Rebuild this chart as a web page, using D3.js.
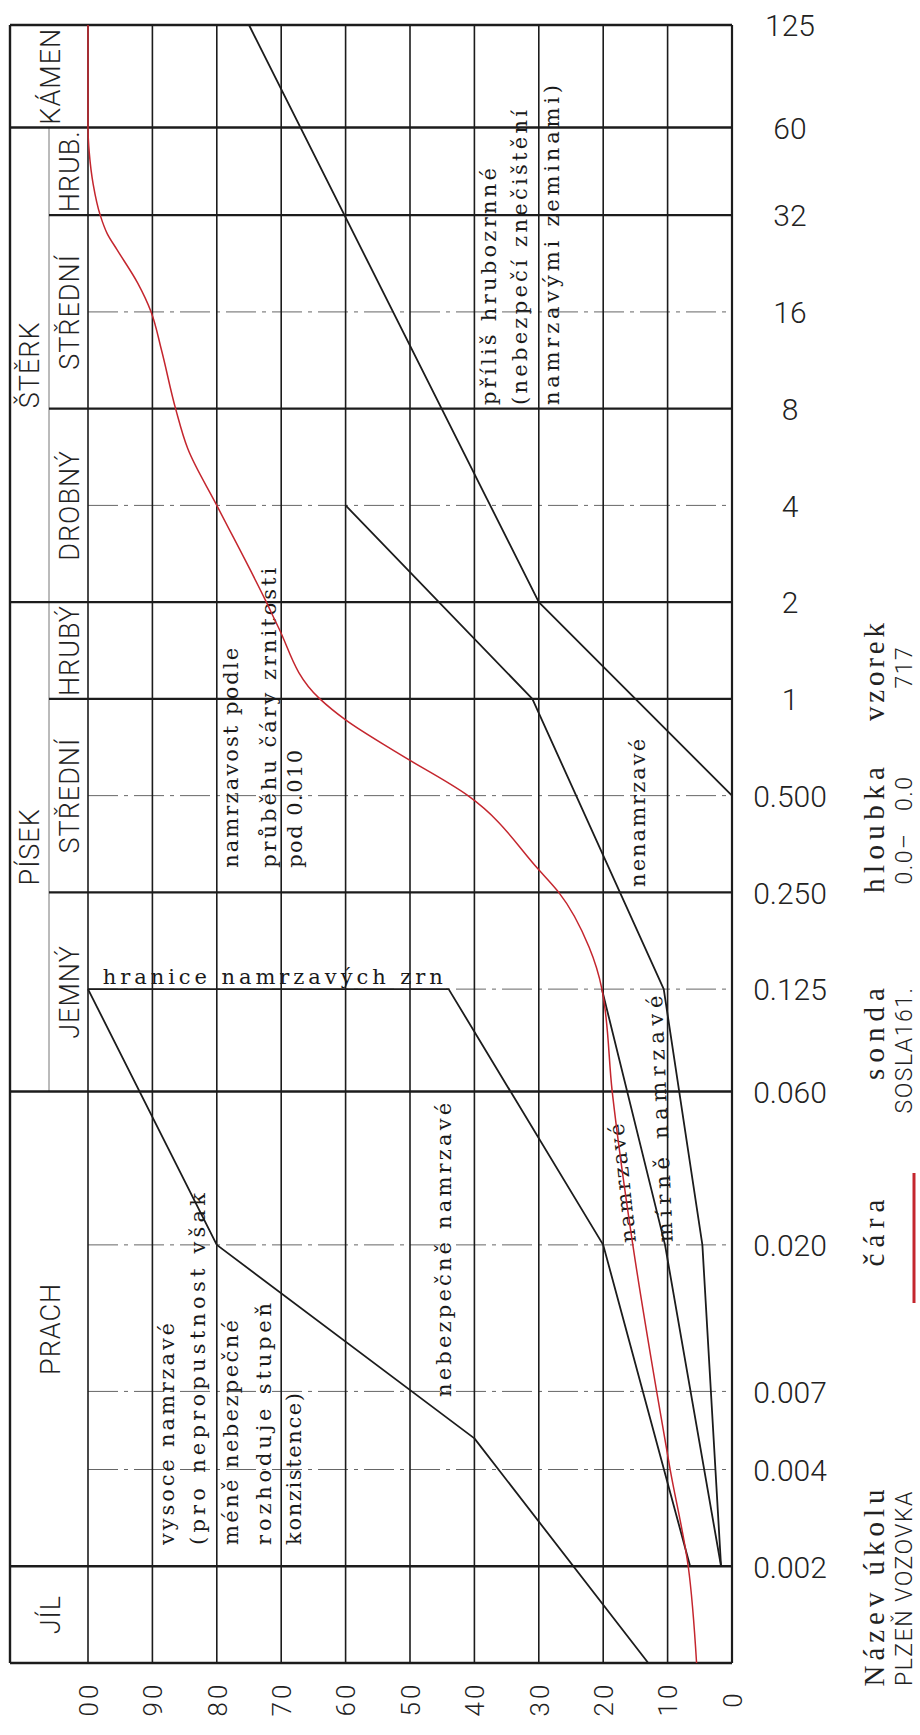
<!DOCTYPE html>
<html>
<head>
<meta charset="utf-8">
<script src="https://cdn.jsdelivr.net/npm/d3@7"></script>
<style>
  body { margin: 0; background: #fff; }
  .sans { font-family: Roboto, "DejaVu Sans", sans-serif; font-weight: 300; fill: #222; }
  .serif { font-family: "DejaVu Serif", "Liberation Serif", serif; fill: #1a1a1a; }
  .legend-word { font-family: "Liberation Serif", "DejaVu Serif", serif; fill: #222; }
</style>
</head>
<body>
<div id="container"></div>
<script>
// grain size (mm) - runs vertically on a log scale
const sizeTicks = [125, 60, 32, 16, 8, 4, 2, 1, 0.5, 0.25, 0.125, 0.06, 0.02, 0.007, 0.004, 0.002];
const sizeTickLabels = ["125", "60", "32", "16", "8", "4", "2", "1", "0.500", "0.250", "0.125", "0.060", "0.020", "0.007", "0.004", "0.002"];
const sizeFullLines = [60, 2, 0.06, 0.002];
const sizeInnerLines = [32, 8, 1, 0.25];
const sizeThinLines = [16, 4, 0.5, 0.125, 0.02, 0.007, 0.004];

// percent passing - runs horizontally, 100 on the left
const percentTicks = [100, 90, 80, 70, 60, 50, 40, 30, 20, 10, 0];
const percentLabels = ["00", "90", "80", "70", "60", "50", "40", "30", "20", "10", "0"];

// soil fractions in the header column
const fractionNames = ["KÁMEN", "ŠTĚRK", "PÍSEK", "PRACH", "JÍL"];
const fractionFrom = [125, 60, 2, 0.06, 0.002];
const fractionTo = [60, 2, 0.06, 0.002, 0.001];
const fractionSplit = [false, true, true, false, false];
const subNames = ["HRUB.", "STŘEDNÍ", "DROBNÝ", "HRUBÝ", "STŘEDNÍ", "JEMNÝ"];
const subFrom = [60, 32, 8, 2, 1, 0.25];
const subTo = [32, 8, 2, 1, 0.25, 0.06];

// frost susceptibility limit lines, [size mm, percent]
const limitCoarse = [[125, 75], [2, 30], [0.5, 0]];
const limitNonFrost = [[4, 60], [1, 31], [0.125, 10.6], [0.02, 4.6], [0.002, 1.7]];
const limitSlight = [[0.125, 20.2], [0.02, 10.4], [0.002, 1.7]];
const limitFrostGrains = [[0.125, 100], [0.125, 44], [0.02, 20], [0.002, 6.5]];
const limitHigh = [[0.125, 100], [0.02, 80], [0.005, 40], [0.001, 13]];

// sample grading curve (sonda SOSLA161, vzorek 717)
const sampleSize = [125, 60, 50, 40, 32, 28, 25, 19.7, 16, 12.2, 8, 6, 4, 2, 1.68, 1, 0.86, 0.68, 0.5, 0.294, 0.25, 0.169, 0.125, 0.06, 0.02, 0.007, 0.004, 0.002, 0.001];
const samplePassing = [100, 100, 99.8, 99.2, 98.1, 97, 95.5, 92.3, 90.2, 88.6, 86.4, 84.5, 80, 72.3, 70.5, 64, 60, 52, 41, 30, 26.9, 22.2, 20.2, 18.6, 15.4, 11.7, 9.6, 6.8, 5.5];

// zone texts, anchored in data units (size mm, percent)
const zoneTexts = [
  { text: "příliš hrubozrnné", size: 8.21, pct: 36.6, len: 237 },
  { text: "(nebezpečí znečištění", size: 8.21, pct: 31.8, len: 295 },
  { text: "namrzavými zeminami)", size: 8.21, pct: 26.9, len: 320 },
  { text: "namrzavost podle", size: 0.298, pct: 76.7, len: 220 },
  { text: "průběhu čáry zrnitosti", size: 0.298, pct: 70.8, len: 300 },
  { text: "pod 0.010", size: 0.298, pct: 66.8, len: 118 },
  { text: "nenamrzavé", size: 0.26, pct: 13.5, len: 148 },
  { text: "nebezpečně namrzavé", size: 0.00673, pct: 43.6, len: 294 },
  { text: "vysoce namrzavé", size: 0.00233, pct: 86.6, len: 222 },
  { text: "(pro nepropustnost však", size: 0.00233, pct: 81.8, len: 352 },
  { text: "méně nebezpečné", size: 0.00233, pct: 76.7, len: 225 },
  { text: "rozhoduje stupeň", size: 0.00233, pct: 71.6, len: 242 },
  { text: "konzistence)", size: 0.00233, pct: 66.9, len: 152 },
  { text: "namrzavé", size: 0.0204, pct: 14.9, len: 120, angle: -96 },
  { text: "mírně namrzavé", size: 0.0204, pct: 9.2, len: 247, angle: -92.5 },
  { text: "hranice namrzavých zrn", size: 0.1297, pct: 97.7, len: 340, angle: 0 }
];

// legend block on the right
const legendWords = ["vzorek", "hloubka", "sonda", "čára", "Název úkolu"];
const legendWordLen = [98, 126, 92, 67, 197];
const legendValues = ["717", "0.0–   0.0", "SOSLA161.", "", "PLZEŇ VOZOVKA"];

const width = 920, height = 1735;
const left = 10, split = 49;
const x = d3.scaleLinear().domain([100, 0]).range([88, 732]);
const y = d3.scaleLog().domain([125, 0.001]).range([25, 1663]);

const svg = d3.select("#container").append("svg")
  .attr("width", width).attr("height", height)
  .style("background", "#fff");

const ink = "#1c1c1c";

// thin partial lines
svg.append("g").selectAll("line").data(sizeThinLines).join("line")
  .attr("x1", x(100)).attr("x2", x(0))
  .attr("y1", d => y(d)).attr("y2", d => y(d))
  .attr("stroke", "#666").attr("stroke-width", 1)
  .attr("stroke-dasharray", "30,6,4,6");

// vertical percent grid
svg.append("g").selectAll("line").data(percentTicks).join("line")
  .attr("x1", d => x(d)).attr("x2", d => x(d))
  .attr("y1", y(125)).attr("y2", y(0.001))
  .attr("stroke", ink).attr("stroke-width", d => d === 0 ? 2.2 : 1.6);

// header sub-column divider
svg.append("line")
  .attr("x1", split).attr("x2", split)
  .attr("y1", y(60)).attr("y2", y(0.06))
  .attr("stroke", "#777").attr("stroke-width", 1);

// main horizontal lines
svg.append("g").selectAll("line").data([125, 0.001].concat(sizeFullLines)).join("line")
  .attr("x1", left).attr("x2", x(0))
  .attr("y1", d => y(d)).attr("y2", d => y(d))
  .attr("stroke", ink).attr("stroke-width", 2.4);
svg.append("g").selectAll("line").data(sizeInnerLines).join("line")
  .attr("x1", split).attr("x2", x(0))
  .attr("y1", d => y(d)).attr("y2", d => y(d))
  .attr("stroke", ink).attr("stroke-width", 2.1);
svg.append("line")
  .attr("x1", left).attr("x2", left)
  .attr("y1", y(125)).attr("y2", y(0.001))
  .attr("stroke", ink).attr("stroke-width", 2.4);

// limit lines
const limitLine = d3.line().x(d => x(d[1])).y(d => y(d[0]));
svg.append("g").selectAll("path")
  .data([limitCoarse, limitNonFrost, limitSlight, limitFrostGrains, limitHigh])
  .join("path")
  .attr("d", limitLine)
  .attr("fill", "none").attr("stroke", ink).attr("stroke-width", 1.8)
  .attr("stroke-linejoin", "round");

// fraction names
const fracG = svg.append("g").attr("class", "sans").style("font-size", "27px");
fractionNames.forEach((name, i) => {
  const cy = (y(fractionFrom[i]) + y(fractionTo[i])) / 2;
  const cx = fractionSplit[i] ? 30 : 51;
  fracG.append("text")
    .attr("transform", `translate(${cx},${cy}) rotate(-90)`)
    .attr("text-anchor", "middle").attr("dominant-baseline", "central")
    .style("letter-spacing", "1px")
    .text(name);
});
subNames.forEach((name, i) => {
  const cy = (y(subFrom[i]) + y(subTo[i])) / 2;
  fracG.append("text")
    .attr("transform", `translate(70,${cy}) rotate(-90)`)
    .attr("text-anchor", "middle").attr("dominant-baseline", "central")
    .style("letter-spacing", "1px")
    .text(name);
});

// zone descriptions
const zoneG = svg.append("g").attr("class", "serif").style("font-size", "21px");
zoneTexts.forEach(t => {
  const a = t.angle === undefined ? -90 : t.angle;
  zoneG.append("text")
    .attr("transform", `translate(${x(t.pct)},${y(t.size)}) rotate(${a})`)
    .attr("textLength", t.len).attr("lengthAdjust", "spacing")
    .text(t.text);
});

// sample curve
const idx = d3.range(sampleSize.length);
svg.append("path")
  .datum(idx)
  .attr("fill", "none")
  .attr("stroke", "#c4262e").attr("stroke-width", 1.5)
  .attr("d", d3.line()
    .x(i => x(samplePassing[i]))
    .y(i => y(sampleSize[i]))
    .curve(d3.curveMonotoneY));

// grain size labels
const sizeAxis = svg.append("g")
  .attr("transform", "translate(790,0)")
  .call(d3.axisRight(y).tickValues(sizeTicks)
    .tickFormat((d, i) => sizeTickLabels[i]).tickSize(0).tickPadding(0));
sizeAxis.select(".domain").remove();
sizeAxis.selectAll("text")
  .attr("x", 0).attr("dy", "0.36em")
  .attr("text-anchor", "middle")
  .style("font-size", "30px").style("font-family", "Roboto, sans-serif")
  .style("font-weight", 300).attr("fill", "#222");

// percent labels
const pctAxis = svg.append("g")
  .attr("transform", "translate(0,1699)")
  .call(d3.axisBottom(x).tickValues(percentTicks)
    .tickFormat((d, i) => percentLabels[i]).tickSize(0).tickPadding(0));
pctAxis.select(".domain").remove();
pctAxis.selectAll("text")
  .attr("y", 0).attr("dy", "0.36em")
  .attr("transform", "rotate(-90)")
  .attr("text-anchor", "middle")
  .style("font-size", "26px").style("font-family", "Roboto, sans-serif")
  .style("font-weight", 300).style("letter-spacing", "3px").attr("fill", "#222");

// legend block
const wordY = [672, 830, 1034, 1233, 1588];
const valueY = [667, 830, 1050, 1233, 1588];
const legG = svg.append("g");
legendWords.forEach((w, i) => {
  legG.append("text").attr("class", "legend-word")
    .attr("transform", `translate(884,${wordY[i]}) rotate(-90)`)
    .attr("text-anchor", "middle")
    .attr("textLength", legendWordLen[i]).attr("lengthAdjust", "spacing")
    .style("font-size", "29px")
    .text(w);
  if (legendValues[i]) {
    legG.append("text").attr("class", "sans")
      .attr("transform", `translate(912,${valueY[i]}) rotate(-90)`)
      .attr("text-anchor", "middle")
      .style("font-size", "23px").style("letter-spacing", "1.5px")
      .style("white-space", "pre")
      .text(legendValues[i]);
  }
});
legG.append("line")
  .attr("x1", 914).attr("x2", 914).attr("y1", 1173).attr("y2", 1303)
  .attr("stroke", "#c4262e").attr("stroke-width", 3);
</script>
</body>
</html>
